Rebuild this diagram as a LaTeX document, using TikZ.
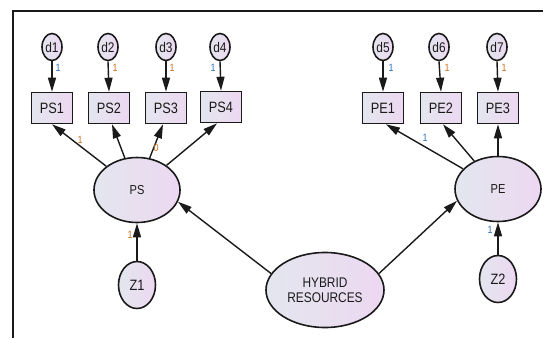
\documentclass[tikz,border=0pt]{standalone}
\usepackage{fontspec}
\newfontfamily\amos{Liberation Sans}[FakeStretch=0.85]
\usetikzlibrary{arrows.meta,shapes.geometric}
\definecolor{ink}{HTML}{1A1A1A}
\definecolor{fillL}{HTML}{E3E6EE}
\definecolor{fillR}{HTML}{EDD8F1}
\definecolor{lblue}{HTML}{2A6FB8}
\definecolor{lorange}{HTML}{C8701E}
\begin{document}
\begin{tikzpicture}[x=1pt,y=-1pt,
  every node/.style={font=\amos, text=ink},
  latent/.style={ellipse, draw=ink, line width=1.6pt, left color=fillL, right color=fillR,
                 inner sep=0pt, font=\amos\fontsize{13}{14}\selectfont},
  errvar/.style={ellipse, draw=ink, line width=1.6pt, left color=fillL, right color=fillR,
                 inner sep=0pt, minimum width=20pt, minimum height=27pt,
                 font=\amos\fontsize{14}{15}\selectfont},
  resid/.style={errvar, minimum width=37pt, minimum height=47pt, font=\amos\fontsize{15}{16}\selectfont},
  obsbox/.style={rectangle, draw=ink, line width=1.6pt, left color=fillL, right color=fillR,
                 minimum width=41pt, minimum height=31pt, inner sep=0pt,
                 font=\amos\fontsize{15}{16}\selectfont},
  path/.style={draw=ink, line width=1.4pt, -{Triangle[length=14pt,width=8pt]}},
  wt/.style={font=\amos\fontsize{10.5}{11}\selectfont, inner sep=0pt},
  wb/.style={wt, text=lblue},
  wo/.style={wt, text=lorange}]
\useasboundingbox[fill=white] (0,0) rectangle (552,338);

% frame
\draw[ink, line width=1.6pt] (13,338) -- (13,11) -- (543,11);

% observed indicators
\node[obsbox] (PS1) at (52,108) {PS1};
\node[obsbox] (PS2) at (109,108) {PS2};
\node[obsbox] (PS3) at (166,108) {PS3};
\node[obsbox] (PS4) at (221,107) {PS4};
\node[obsbox] (PE1) at (383,108) {PE1};
\node[obsbox] (PE2) at (441,108) {PE2};
\node[obsbox] (PE3) at (498,108) {PE3};

% measurement errors
\node[errvar] (d1) at (52,47) {d1};
\node[errvar] (d2) at (108,47) {d2};
\node[errvar] (d3) at (166,47) {d3};
\node[errvar] (d4) at (220,47) {d4};
\node[errvar] (d5) at (383,47) {d5};
\node[errvar] (d6) at (439,47) {d6};
\node[errvar] (d7) at (497,47) {d7};

% latent variables
\node[latent, minimum width=86pt, minimum height=65pt] (PS) at (137,190) {PS};
\node[latent, minimum width=86pt, minimum height=65pt] (PE) at (498,189) {PE};
\node[latent, minimum width=118pt, minimum height=75pt, align=center,
      font=\amos\fontsize{14}{15}\selectfont] (HYB) at (325,290) {HYBRID\\RESOURCES};

% structural residuals
\node[resid] (Z1) at (137,285) {Z1};
\node[resid] (Z2) at (498,279) {Z2};

% error paths
\foreach \d/\o in {d1/PS1,d2/PS2,d3/PS3,d4/PS4,d5/PE1,d6/PE2,d7/PE3}
  \draw[path] (\d.south) -- (\o.north);

% loadings
\draw[path] (PS) -- (PS1.south);
\draw[path] (PS) -- ([xshift=3pt]PS2.south);
\draw[path] (PS) -- ([xshift=-3pt]PS3.south);
\draw[path] (PS) -- ([xshift=-4pt]PS4.south);
\draw[path] (PE) -- ([xshift=3pt]PE1.south);
\draw[path] (PE) -- ([xshift=2pt]PE2.south);
\draw[path] (PE.north) -- (PE3.south);

% structural paths
\draw[path] (HYB.163) -- (PS.-16);
\draw[path] (HYB.17) -- (PE.196);
\draw[path] (Z1.north) -- (PS.south);
\draw[path] (Z2.north) -- (PE.south);

% path weights
\node[wb] (w1) at (58,68) {1};
\node[wo] (w2) at (115,68) {1};
\node[wo] (w3) at (172,68) {1};
\node[wb] (w4) at (213,68) {1};
\node[wb] (w5) at (391,68) {1};
\node[wo] (w6) at (447,68) {1};
\node[wo] (w7) at (504,68) {1};
\node[wo] (w8) at (80,140) {1};
\node[wo] (w9) at (156,148) {0};
\node[wb] (w10) at (425,138) {1};
\node[wo] (w11) at (130,235) {1};
\node[wb] (w12) at (490,230) {1};
\end{tikzpicture}
\end{document}
